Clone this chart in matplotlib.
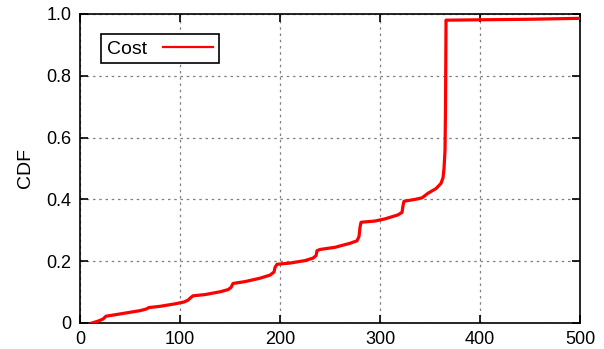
import matplotlib
matplotlib.use("Agg")
import matplotlib.pyplot as plt

plt.rcParams['font.family'] = ['Liberation Sans', 'DejaVu Sans']

# Cost CDF samples (cost, cumulative fraction)
cost = [12, 18, 23, 26, 30, 45, 60, 66, 69, 80, 95, 104, 108, 111, 113, 125,
        140, 148, 151, 153, 165, 180, 190, 194, 195, 197, 210, 225, 233, 236,
        237, 240, 255, 270, 277, 279, 280, 281, 295, 305, 318, 322, 323, 324,
        335, 342, 348, 356, 361, 363, 364, 365, 365.5, 366, 450, 500]
cdf = [0.000, 0.006, 0.013, 0.022, 0.024, 0.032, 0.040, 0.045, 0.050, 0.054,
       0.062, 0.068, 0.074, 0.083, 0.088, 0.092, 0.101, 0.108, 0.115, 0.128,
       0.134, 0.145, 0.155, 0.165, 0.180, 0.190, 0.194, 0.202, 0.210, 0.218,
       0.234, 0.238, 0.245, 0.258, 0.266, 0.280, 0.310, 0.326, 0.330, 0.337,
       0.350, 0.358, 0.380, 0.394, 0.400, 0.405, 0.420, 0.435, 0.452, 0.470,
       0.500, 0.560, 0.700, 0.980, 0.983, 0.986]

xticks = [0, 100, 200, 300, 400, 500]
yticks = [0, 0.2, 0.4, 0.6, 0.8, 1.0]
yticklabels = ['0', '0.2', '0.4', '0.6', '0.8', '1.0']

fig = plt.figure(figsize=(6.04, 3.49), dpi=100)
ax = fig.add_axes([0.1325, 0.0745, 0.8278, 0.8854])

ax.plot(cost, cdf, color='#ff0000', linewidth=2.3, label='Cost',
        solid_joinstyle='round', zorder=3)

ax.set_xlim(0, 500)
ax.set_ylim(0, 1.0)
ax.set_xticks(xticks)
ax.set_yticks(yticks)
ax.set_yticklabels(yticklabels)
ax.tick_params(direction='in', length=6, width=1.2, labelsize=13,
               top=True, right=True, pad=6)
ax.grid(True, color='#808080', linestyle=(0, (2, 3)), linewidth=0.9)
for s in ax.spines.values():
    s.set_linewidth(1.2)
    s.set_color('black')

ax.set_ylabel('CDF', fontsize=14, labelpad=9)

leg = ax.legend(loc='upper left', bbox_to_anchor=(0.042, 0.935),
                markerfirst=False, fontsize=14, fancybox=False,
                framealpha=1, edgecolor='black', handlelength=2.6,
                borderpad=0.3, handletextpad=0.8, borderaxespad=0)
leg.get_frame().set_linewidth(1.2)
for h in leg.get_lines():
    h.set_linewidth(1.6)

fig.savefig('out.png', dpi=100)
